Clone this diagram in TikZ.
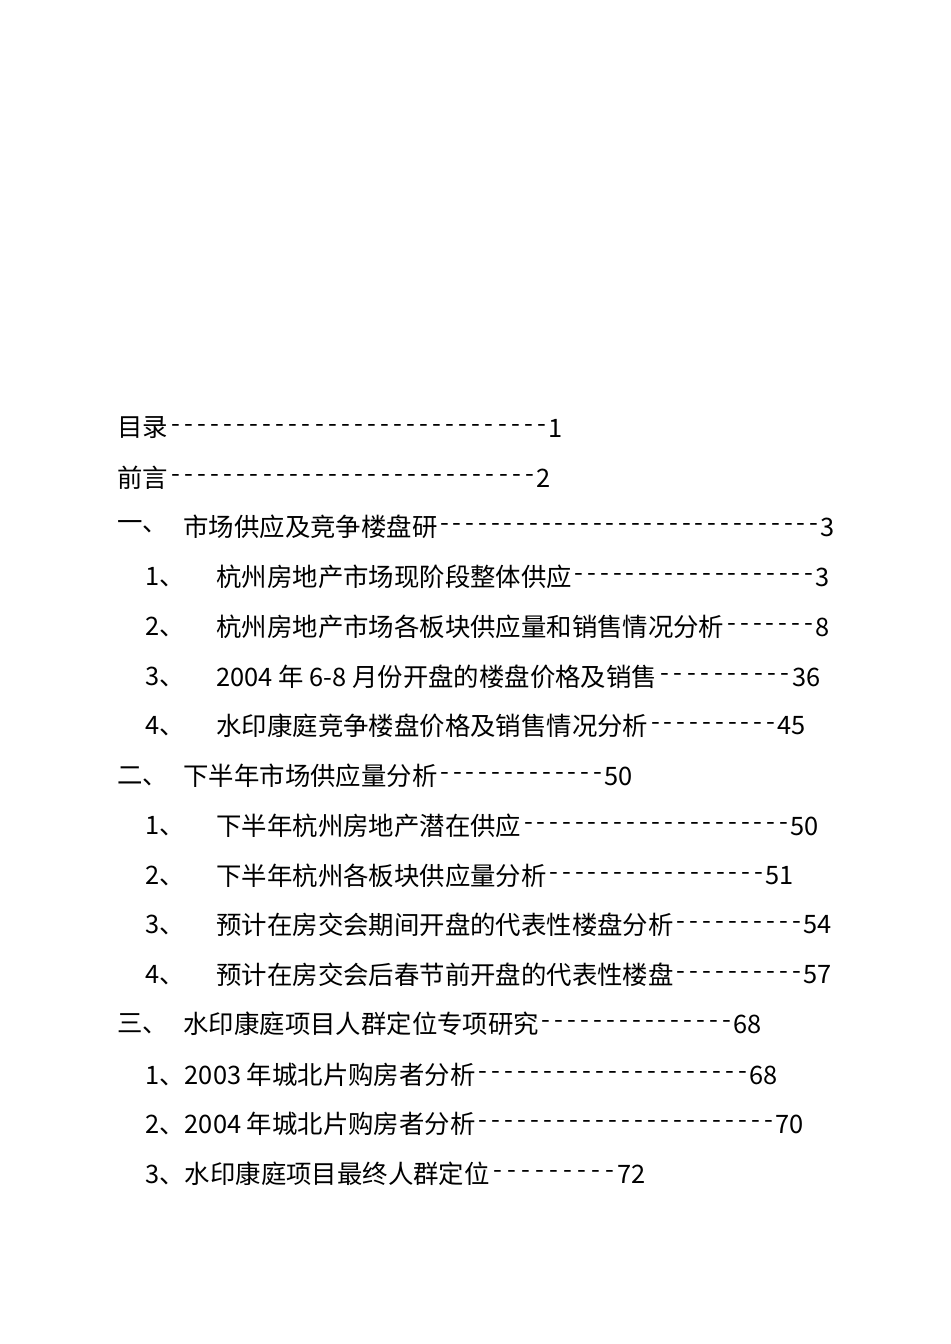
\documentclass[tikz,border=0pt]{standalone}
\usepackage{fontspec}
\setmainfont{Noto Sans CJK SC}
\usetikzlibrary{calc}
\tikzset{tx/.style={anchor=west,inner sep=0pt,font=\fontsize{12.7pt}{14pt}\selectfont}}
\begin{document}
\begin{tikzpicture}[x=0.5pt,y=-0.5pt]
\useasboundingbox (0,0) rectangle (950,1344);
\fill[white] (0,0) rectangle (950,1344);
\foreach \i/\yy/\lx/\lab/\tx/\ttl/\nx/\num in {
a/428/117//117/目录/548/1,
b/478/117//117/前言/536/2,
c/527/117/一、/183/市场供应及竞争楼盘研/820/3,
d/577/145/1、/216/杭州房地产市场现阶段整体供应/815/3,
e/627/145/2、/216/杭州房地产市场各板块供应量和销售情况分析/815/8,
f/677/145/3、/216/2004 年 6-8 月份开盘的楼盘价格及销售/792/36,
g/726/145/4、/216/水印康庭竞争楼盘价格及销售情况分析/777/45,
h/776/117/二、/183/下半年市场供应量分析/604/50,
i/826/145/1、/216/下半年杭州房地产潜在供应/790/50,
j/876/145/2、/216/下半年杭州各板块供应量分析/765/51,
k/925/145/3、/216/预计在房交会期间开盘的代表性楼盘分析/803/54,
l/975/145/4、/216/预计在房交会后春节前开盘的代表性楼盘/803/57,
m/1024/117/三、/183/水印康庭项目人群定位专项研究/733/68,
n/1075/145//145/1、2003 年城北片购房者分析/749/68,
o/1124/145//145/2、2004 年城北片购房者分析/775/70,
p/1174/145//145/3、水印康庭项目最终人群定位/617/72}
{
  \node[tx] (l\i) at (\lx,\yy) {\lab};
  \node[tx] (t\i) at (\tx,\yy) {\ttl};
  \node[tx] (n\i) at (\nx,\yy) {\num};
  \path let \p1=(t\i.east), \p2=(n\i.west), \n1={\x2-\x1} in
    node[tx] (d\i) at (\p1) {\hbox to \n1{\xleaders\hbox to 6.35pt{\hss-\hss}\hfill}};
}
\end{tikzpicture}
\end{document}
